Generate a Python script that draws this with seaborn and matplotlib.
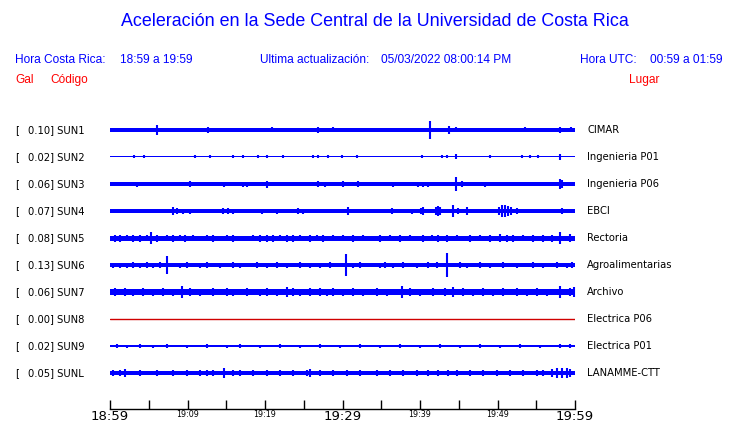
"""
Aceleracion en la Sede Central de la UCR - recreated sketch of the station traces.
"""

import numpy as np
import matplotlib
matplotlib.use('Agg')
import matplotlib.pyplot as plt
import seaborn as sns

# ─────────────────────────────────────────────
# Data
# ─────────────────────────────────────────────
codes  = ['SUN1', 'SUN2', 'SUN3', 'SUN4', 'SUN5', 'SUN6', 'SUN7', 'SUN8', 'SUN9', 'SUNL']
peaks  = [0.10, 0.02, 0.06, 0.07, 0.08, 0.13, 0.06, 0.00, 0.02, 0.05]
places = ['CIMAR', 'Ingenieria P01', 'Ingenieria P06', 'EBCI', 'Rectoria',
          'Agroalimentarias', 'Archivo', 'Electrica P06', 'Electrica P01', 'LANAMME-CTT']

# background noise level of each trace (relative amplitude)
noise = [1.6, 0.5, 1.9, 1.6, 2.5, 1.6, 2.8, 0.0, 1.1, 1.6]

# bursts: minutes after 18:59 and relative half-amplitude
sun1_t = [6.1, 12.6, 20.9, 24.8, 26.9, 28.8, 41.3, 43.7, 44.7, 53.5, 58.1, 59.5]
sun1_a = [5, 3, 2.5, 2, 3, 2.5, 9, 4, 2.5, 2.5, 3, 2.5]

sun2_t = [3.1, 4.4, 11.0, 12.9, 15.9, 17.2, 19.1, 20.3, 22.3, 26.2, 26.8, 28.1, 29.9,
          31.9, 40.3, 42.8, 43.5, 44.6, 49.0, 53.1, 54.2, 55.2, 58.1]
sun2_a = [1.5, 1.5, 1.5, 1.5, 1.5, 1.5, 1.5, 1.5, 1.5, 1.5, 1.5, 1.5, 1.5,
          1.5, 1.5, 1.5, 1.5, 2.5, 1.5, 1.5, 1.5, 1.5, 3]

sun3_t = [3.5, 10.3, 14.7, 17.2, 17.7, 20.3, 26.8, 27.7, 30.1, 32.0, 36.5, 39.7, 40.4,
          41.0, 44.6, 45.4, 48.4, 58.1, 58.3]
sun3_a = [2.5, 3, 2.5, 2.5, 2.5, 3.5, 3, 2.5, 3, 3, 2.5, 2.5, 2.5,
          2.5, 7, 3, 2.5, 5, 4]

sun4_t = [8.1, 8.6, 9.4, 10.3, 14.6, 15.2, 15.9, 19.6, 21.5, 24.3, 24.9, 30.7, 36.4,
          39.0, 40.1, 40.4, 42.1, 42.3, 42.6, 44.2, 44.9, 46.1, 50.2, 50.6, 51.0,
          51.3, 51.7, 52.5, 58.3]
sun4_a = [4, 3, 2.5, 2.5, 3, 3, 2.5, 2.5, 2.5, 3, 2.5, 4, 3,
          2.5, 3, 4, 4, 5, 4, 6, 3, 4, 4, 6, 6,
          5, 4, 3, 3]

sun5_t = [0.6, 1.3, 2.2, 3.0, 3.9, 4.8, 5.3, 6.1, 7.4, 8.1, 9.0, 9.7, 10.7, 12.5, 13.3,
          15.1, 15.9, 18.4, 19.4, 20.3, 21.0, 21.9, 22.8, 23.6, 24.5, 25.8, 26.7, 27.5,
          28.8, 30.1, 31.3, 32.6, 34.8, 36.1, 37.4, 38.7, 40.4, 41.5, 42.3, 43.5, 44.8,
          46.4, 47.7, 49.0, 50.3, 51.2, 52.0, 53.3, 54.6, 55.9, 57.0, 58.1, 59.3]
sun5_a = [3.5, 3.5, 3, 3.5, 3.5, 3, 6, 3.5, 3, 3.5, 3, 3.5, 3, 3, 3.5,
          3, 3.5, 3, 3.5, 3.5, 3.5, 3, 3.5, 3.5, 3, 3.5, 3, 3.5,
          3, 3, 3.5, 3, 3.5, 3, 3.5, 3, 3.5, 3, 3.5, 3.5, 3,
          3.5, 3, 3.5, 4, 3.5, 3.5, 3, 3.5, 3.5, 3.5, 6, 4]

sun6_t = [0.4, 1.3, 2.2, 3.0, 3.9, 4.8, 5.5, 6.5, 7.4, 9.0, 9.9, 11.6, 12.5, 14.2,
          15.9, 16.8, 19.0, 20.3, 21.5, 22.8, 24.5, 25.8, 27.1, 28.4, 30.4, 31.3,
          32.3, 34.8, 35.5, 36.5, 37.8, 39.6, 41.0, 42.2, 43.5, 45.2, 46.1, 47.7,
          49.0, 50.7, 52.5, 54.6, 55.9, 57.7, 59.0, 59.6]
sun6_a = [2.5, 2.5, 2.5, 3, 2.5, 3, 2.5, 3, 9, 2.5, 3, 2.5, 3, 2.5,
          3, 2.5, 3, 2.5, 3, 2.5, 3, 2.5, 2.5, 3, 11, 2.5,
          3, 2.5, 3, 2.5, 3, 2.5, 3, 3, 12, 3, 2.5, 3,
          2.5, 3, 2.5, 3, 2.5, 3, 2.5, 3]

sun7_t = [0.6, 1.9, 3.0, 4.3, 5.5, 6.8, 8.1, 9.3, 10.3, 11.6, 13.3, 15.1, 15.9, 17.7,
          19.4, 20.3, 21.5, 22.8, 23.6, 24.5, 25.8, 27.1, 28.0, 28.8, 30.1, 31.3,
          32.6, 34.4, 35.7, 37.7, 38.7, 40.0, 41.7, 43.2, 44.2, 45.5, 46.8, 48.1,
          49.4, 50.7, 52.5, 53.8, 55.1, 56.4, 58.1, 59.3, 59.9]
sun7_a = [4, 4, 3.5, 4, 3.5, 4, 3.5, 6, 4, 3.5, 4, 4, 3.5, 4,
          3.5, 4, 3.5, 5, 4, 3.5, 4, 4, 3.5, 4, 3.5, 4,
          3.5, 4, 3.5, 6, 4, 3.5, 4, 4, 5, 4, 3.5, 4,
          3.5, 4, 4, 3.5, 4, 3.5, 6, 4, 5]

sun8_t = []
sun8_a = []

sun9_t = [0.9, 2.2, 3.9, 5.5, 7.4, 9.9, 12.5, 15.1, 16.8, 19.4, 21.9, 24.5, 27.1,
          29.7, 32.3, 34.8, 37.4, 40.0, 42.6, 45.2, 47.7, 50.3, 52.9, 55.5, 58.1, 59.3]
sun9_a = [1.8, 1.5, 1.8, 1.5, 1.8, 1.5, 1.8, 1.5, 1.8, 1.5, 1.8, 1.5, 1.8,
          1.5, 1.8, 1.5, 1.8, 1.5, 1.8, 1.5, 1.8, 1.5, 1.8, 1.5, 2, 1.8]

sunl_t = [0.4, 1.3, 1.9, 3.9, 6.1, 8.1, 9.9, 11.6, 12.5, 13.3, 14.7, 15.9, 16.8,
          18.4, 20.3, 21.9, 23.6, 25.4, 25.8, 27.1, 28.8, 30.6, 32.3, 34.4, 36.1,
          37.8, 39.6, 41.0, 42.3, 43.6, 44.8, 46.4, 48.1, 49.9, 51.6, 53.3, 55.1,
          55.9, 57.0, 57.7, 58.3, 59.0, 59.3]
sunl_a = [3, 3, 4, 3, 3, 3, 3, 3, 3, 3, 5, 3, 3,
          3, 3, 3, 3, 3, 4, 3, 3, 3, 3, 3, 3,
          3, 3, 3, 3, 3, 3, 3, 3, 3, 3, 3, 3,
          3, 4, 5, 5, 5, 4]

burst_t = [sun1_t, sun2_t, sun3_t, sun4_t, sun5_t, sun6_t, sun7_t, sun8_t, sun9_t, sunl_t]
burst_a = [sun1_a, sun2_a, sun3_a, sun4_a, sun5_a, sun6_a, sun7_a, sun8_a, sun9_a, sunl_a]

tick_minutes = list(range(0, 61, 5))
tick_labels  = ['18:59', '', '19:09', '', '19:19', '', '19:29', '',
                '19:39', '', '19:49', '', '19:59']

# ─────────────────────────────────────────────
# Styling
# ─────────────────────────────────────────────
BLUE = '#0000FF'
RED  = '#FF0000'
FLAT = '#D00000'
HEAD = 'Liberation Sans'
BODY = 'DejaVu Sans'
PX   = 1 / 27.0          # one pixel in row units (rows are 27 px apart)
MPX  = 1 / 7.75          # one pixel in minutes

sns.set_theme(style='white')
plt.rcParams['font.family'] = ['DejaVu Sans']

W, H = 740, 423
fig = plt.figure(figsize=(W / 100, H / 100), dpi=100, facecolor='white')

# axes: x 0..60 min -> px 110..575, rows 0..9 -> px 130..373, spine at px 409
ax = fig.add_axes([110 / W, (H - 409) / H, 465 / W, 309 / H])
ax.set_xlim(0, 60)
ax.set_ylim(10.333, -1.111)
ax.set_facecolor('white')

for i, code in enumerate(codes):
    if noise[i] == 0:
        sns.lineplot(x=[0, 60], y=[i, i], color=FLAT, linewidth=1.0, ax=ax)
    else:
        ax.fill_between([0, 60], i - noise[i] * PX, i + noise[i] * PX,
                        color=BLUE, linewidth=0, clip_on=False)
    if burst_t[i]:
        t = np.array(burst_t[i])
        a = np.array(burst_a[i]) * PX
        ax.vlines(t, i - a, i + a, color=BLUE, linewidth=1.5, clip_on=False)

    # left code label and right place label
    ax.text(-95 * MPX, i, '[', fontsize=7.2, family=BODY, color='black',
            va='center', ha='left', clip_on=False)
    ax.text(-82 * MPX, i, f'{peaks[i]:.2f}] {code}', fontsize=7.2,
            family=BODY, color='black', va='center', ha='left', clip_on=False)
    ax.text(60 + 12 * MPX, i, places[i], fontsize=7.2, family=BODY,
            color='black', va='center', ha='left', clip_on=False)

# time axis
for s in ['top', 'right', 'left']:
    ax.spines[s].set_visible(False)
ax.spines['bottom'].set_color('black')
ax.spines['bottom'].set_linewidth(1.0)
ax.set_yticks([])
ax.set_xticks(tick_minutes)
ax.set_xticklabels(tick_labels)
ax.tick_params(axis='x', direction='in', length=6.5, width=1.0, color='black',
               bottom=True, pad=0.5, labelcolor='black')
big = {'18:59', '19:29', '19:59'}
for lab in ax.get_xticklabels():
    lab.set_fontsize(9.5 if lab.get_text() in big else 5.8)
    lab.set_family(BODY)
ax.grid(False)

# header
fig.text(375 / W, 1 - 22 / H, 'Aceleración en la Sede Central de la Universidad de Costa Rica',
         fontsize=12.9, family=HEAD, color=BLUE, ha='center', va='center')
HS = 8.6
fig.text(15 / W, 1 - 60 / H, 'Hora Costa Rica:', fontsize=HS, family=HEAD, color=BLUE, va='center')
fig.text(120 / W, 1 - 60 / H, '18:59 a 19:59', fontsize=HS, family=HEAD, color=BLUE, va='center')
fig.text(260 / W, 1 - 60 / H, 'Ultima actualización:', fontsize=HS, family=HEAD, color=BLUE, va='center')
fig.text(381 / W, 1 - 60 / H, '05/03/2022 08:00:14 PM', fontsize=HS, family=HEAD, color=BLUE, va='center')
fig.text(580 / W, 1 - 60 / H, 'Hora UTC:', fontsize=HS, family=HEAD, color=BLUE, va='center')
fig.text(650 / W, 1 - 60 / H, '00:59 a 01:59', fontsize=HS, family=HEAD, color=BLUE, va='center')
fig.text(15 / W, 1 - 80 / H, 'Gal', fontsize=HS, family=HEAD, color=RED, va='center')
fig.text(50 / W, 1 - 80 / H, 'Código', fontsize=HS, family=HEAD, color=RED, va='center')
fig.text(629 / W, 1 - 80 / H, 'Lugar', fontsize=HS, family=HEAD, color=RED, va='center')

fig.savefig('out.png', dpi=100, facecolor='white')
